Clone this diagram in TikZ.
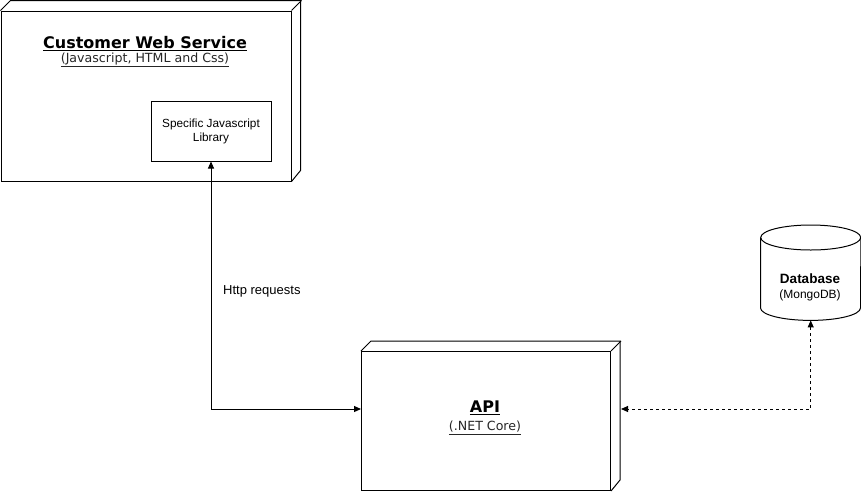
\documentclass[tikz,border=0pt]{standalone}
\usepackage{fontspec}
\setmainfont{Liberation Sans}
\newfontfamily\verd{DejaVu Sans}
\usetikzlibrary{arrows.meta,calc}
\begin{document}
\begin{tikzpicture}[x=1pt,y=-1pt,
  face/.style={draw, line width=1pt, rectangle, inner sep=0pt, anchor=north west},
  edge3d/.style={draw, line width=1pt, line join=miter},
  title/.style={font=\verd\bfseries\fontsize{16}{19}\selectfont, inner sep=0pt},
  subtitle/.style={font=\verd\fontsize{12.6}{15}\selectfont, text=black!85, inner sep=0pt},
  small/.style={font=\fontsize{11.8}{14}\selectfont, align=center, inner sep=0pt},
  conn/.style={line width=1pt, {Triangle[length=7pt,width=6pt]}-{Triangle[length=7pt,width=6pt]}},
]
\useasboundingbox (0,0) rectangle (861,491);

% Customer Web Service 3D box
\node[face, minimum width=290, minimum height=170] (cws) at (0.5,10.5) {};
\draw[edge3d] (cws.north west) -- ++(10,-10) -- ++(290,0) -- ++(0,170) -- (cws.south east);
\draw[edge3d] (cws.north east) -- ++(10,-10);
\node[title] (cwst) at (145,44) {\underline{Customer Web Service}};
\node[subtitle] (cwss) at (145,60) {\underline{(Javascript, HTML and Css)}};

% inner library box
\node[face, minimum width=120, minimum height=60] (lib) at (150.5,100.5) {};
\node[small] (libt) at (lib.center) {Specific Javascript\\Library};

% API 3D box
\node[face, minimum width=249, minimum height=139] (api) at (361,351) {};
\draw[edge3d] (api.north west) -- ++(10,-10) -- ++(249,0) -- ++(0,139) -- (api.south east);
\draw[edge3d] (api.north east) -- ++(10,-10);
\node[title] (apit) at (485,408) {\underline{API}};
\node[subtitle] (apis) at (485,428) {\underline{(.NET Core)}};

% Database cylinder
\node[inner sep=0pt, minimum width=100, minimum height=95, anchor=north west] (db) at (760.5,225) {};
\draw[line width=1pt] ($(db.north west)+(0,12.5)$) -- ($(db.south west)+(0,-12.5)$)
  arc[start angle=180, end angle=360, x radius=50, y radius=-12.5]
  -- ($(db.north east)+(0,12.5)$);
\draw[line width=1pt] ($(db.north)+(0,12.5)$) ellipse[x radius=50, y radius=12.5];
\node[font=\bfseries\fontsize{13.5}{16}\selectfont, inner sep=0pt] (dbt) at (810,279) {Database};
\node[font=\fontsize{12}{14}\selectfont, inner sep=0pt] (dbs) at (810,295) {(MongoDB)};

% connectors
\coordinate (apiL) at ($(api.north west)+(0,58)$);
\coordinate (apiR) at ($(api.north east)+(10,58)$);
\draw[conn] (lib.south) |- (apiL);
\node[font=\fontsize{13}{15}\selectfont, inner sep=0pt, anchor=west] (http) at (223,291) {Http requests};
\draw[conn, dashed, dash pattern=on 3pt off 3pt] (db.south) |- (apiR);
\end{tikzpicture}
\end{document}
